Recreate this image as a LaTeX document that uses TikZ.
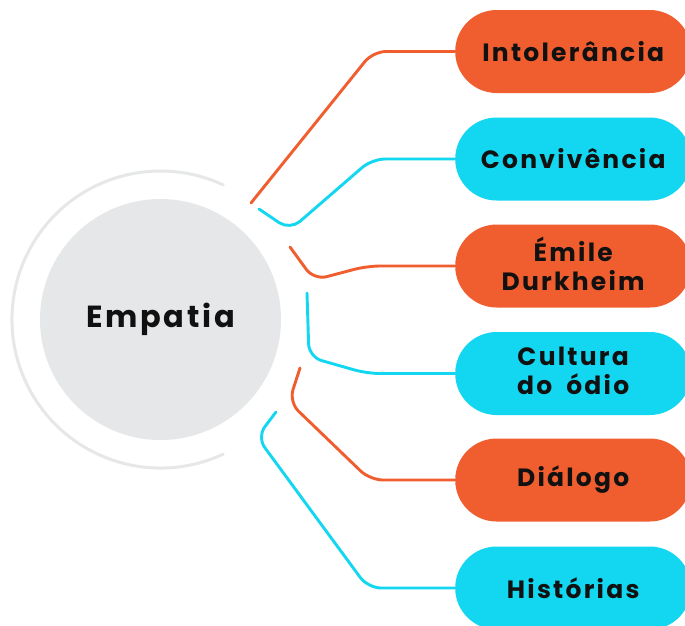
\documentclass[tikz,border=0pt]{standalone}
\usepackage{fontspec}
\newfontfamily\pf{Poppins}[LetterSpace=9]
\definecolor{orng}{HTML}{F05E30}
\definecolor{cyn}{HTML}{13D7F0}
\definecolor{lgray}{HTML}{E6E7E9}
\definecolor{txt}{HTML}{111111}
\newcommand{\lift}{\rule[-5pt]{0pt}{0pt}}
\tikzset{
  pill/.style={rounded corners=41.5pt, minimum width=236pt, minimum height=83pt, inner sep=0pt,
    align=center, text=txt, font=\pf\bfseries\fontsize{25}{29}\selectfont},
  opill/.style={pill, fill=orng},
  cpill/.style={pill, fill=cyn},
  link/.style={line width=2.9pt, line cap=round, rounded corners=13pt},
}
\begin{document}
\begin{tikzpicture}[x=1pt,y=-1pt]
\clip (0,0) rectangle (685,625);
\fill[white] (0,0) rectangle (685,625);
% central circle
\draw[lgray, line width=3pt, line cap=round] (160.5,319.5) ++(65:148.5) arc[start angle=65, end angle=295, radius=148.5];
\node[circle, fill=lgray, minimum size=241pt, inner sep=0pt, text=txt,
      font=\pf\bfseries\fontsize{30.5}{36}\selectfont] (c) at (160.5,319.5) {Empatia};
% pills
\node[opill, anchor=west] (p1) at (455,51.5) {Intolerância};
\node[cpill, anchor=west] (p2) at (455,159) {Convivência};
\node[opill, anchor=west] (p3) at (455,266) {Émile\\Durkheim\lift};
\node[cpill, anchor=west] (p4) at (455,373.5) {Cultura\\do\hspace{14pt}ódio\lift};
\node[opill, anchor=west] (p5) at (455,480) {Diálogo};
\node[cpill, anchor=west] (p6) at (455,588) {Histórias};
% free ends
\coordinate (e1) at (251,203);
\coordinate (e2) at (259,209);
\coordinate (e3) at (290,247);
\coordinate (e4) at (307,293);
\coordinate (e5) at (300,368);
\coordinate (e6) at (276,412);
% connectors
\draw[link, orng] (p1.west) -- (373,51.5) -- (e1);
\draw[link, cyn] (p2.west) -- (372,159) -- (290,230) -- (e2);
\draw[link, orng] (p3.west) -- (367,266) -- (314,280) -- (e3);
\draw[link, cyn] (p4.west) -- (367,373.5) -- (309,357) -- (e4);
\draw[link, orng] (p5.west) -- (370,480) -- (289,402) -- (e5);
\draw[link, cyn] (p6.west) -- (368,588) -- (257,437) -- (e6);
\end{tikzpicture}
\end{document}
